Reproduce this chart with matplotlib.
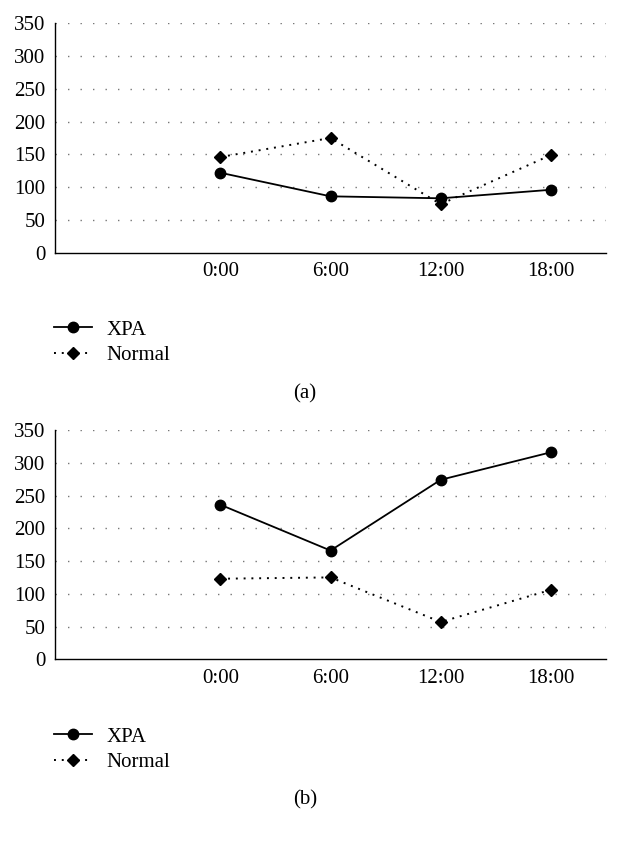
import matplotlib
matplotlib.use("Agg")
import matplotlib.pyplot as plt

plt.rcParams['font.family'] = ['Liberation Serif', 'DejaVu Serif']

# categories (first one is blank in the source chart)
categories = ['', '0:00', '6:00', '12:00', '18:00']
times = ['0:00', '6:00', '12:00', '18:00']

xpa_a = [122, 86, 83, 96]
normal_a = [146, 175, 74, 149]

xpa_b = [236, 166, 274, 316]
normal_b = [123, 125, 57, 106]

yticks = [0, 50, 100, 150, 200, 250, 300, 350]

W, H = 620, 841
fig = plt.figure(figsize=(W / 100, H / 100), dpi=100)


def px_axes(left, top, right, bottom):
    return fig.add_axes([left / W, 1 - bottom / H, (right - left) / W, (bottom - top) / H])


def draw_panel(ax, xpa, normal):
    pos = [categories.index(t) for t in times]

    for y in yticks[1:]:
        ax.axhline(y, color='#777777', lw=1.0, linestyle=(0, (1, 8)), zorder=0)

    l1, = ax.plot(pos, xpa, color='black', lw=1.3, marker='o',
                  markersize=7.5, label='XPA')
    l2, = ax.plot(pos, normal, color='black', lw=1.4, linestyle=(0, (1, 3)),
                  marker='D', markersize=6, label='Normal')

    ax.set_xlim(-0.5, len(categories) - 0.5)
    ax.set_ylim(0, 350)
    ax.set_xticks(pos)
    ax.set_xticklabels(times)
    ax.set_yticks(yticks)
    ax.tick_params(length=0, labelsize=15)
    ax.tick_params(axis='y', pad=7)
    ax.tick_params(axis='x', pad=7)
    for s in ['top', 'right']:
        ax.spines[s].set_visible(False)
    for s in ['left', 'bottom']:
        ax.spines[s].set_linewidth(1.0)
        ax.spines[s].set_color('black')
    return l1, l2


# Panel (a)
ax1 = px_axes(55, 23.3, 606, 252.7)
h = draw_panel(ax1, xpa_a, normal_a)
fig.legend(h, ['XPA', 'Normal'], loc='upper left',
           bbox_to_anchor=(54 / W, 1 - 320 / H), frameon=False,
           fontsize=15, handlelength=1.8, handletextpad=0.7,
           labelspacing=0.3, borderpad=0, borderaxespad=0)
fig.text(305 / W, 1 - 394 / H, '(a)', ha='center', va='center', fontsize=15)

# Panel (b)
ax2 = px_axes(55, 430, 606, 659.3)
h = draw_panel(ax2, xpa_b, normal_b)
fig.legend(h, ['XPA', 'Normal'], loc='upper left',
           bbox_to_anchor=(54 / W, 1 - 727 / H), frameon=False,
           fontsize=15, handlelength=1.8, handletextpad=0.7,
           labelspacing=0.3, borderpad=0, borderaxespad=0)
fig.text(305 / W, 1 - 800 / H, '(b)', ha='center', va='center', fontsize=15)

plt.savefig("out.png", dpi=100)
